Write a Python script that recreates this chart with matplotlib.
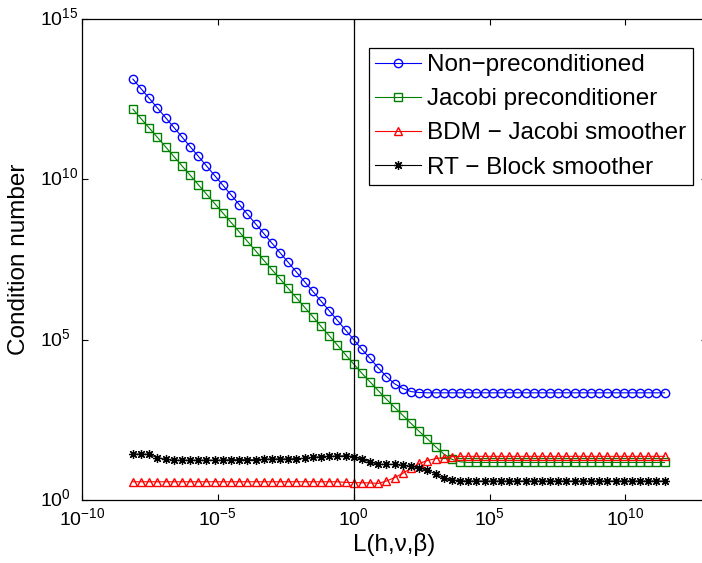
import numpy as np
import matplotlib
matplotlib.use("Agg")
import matplotlib.pyplot as plt
from matplotlib.ticker import NullLocator
from matplotlib.transforms import ScaledTranslation

plt.rcParams['font.family'] = ['Liberation Sans', 'DejaVu Sans']
plt.rcParams['mathtext.fontset'] = 'custom'
plt.rcParams['mathtext.rm'] = 'Liberation Sans'

# x grid: powers of two, 2^-27 ... 2^38
exps = np.arange(-27, 39)
L = 2.0 ** exps

non_prec = np.array([
    1.34e13, 6.71e12, 3.36e12, 1.68e12, 8.39e11, 4.19e11, 2.10e11, 1.05e11,
    5.24e10, 2.62e10, 1.31e10, 6.55e9, 3.28e9, 1.64e9, 8.19e8, 4.10e8,
    2.05e8, 1.02e8, 5.12e7, 2.56e7, 1.28e7, 6.40e6, 3.20e6, 1.60e6,
    8.00e5, 4.00e5, 2.00e5, 1.00e5,
    5.0e4, 2.6e4, 1.32e4, 7.1e3, 4.2e3, 3.0e3, 2.4e3, 2.25e3,
    2200, 2200, 2200, 2200, 2200, 2200, 2200, 2200, 2200, 2200,
    2200, 2200, 2200, 2200, 2200, 2200, 2200, 2200, 2200, 2200,
    2200, 2200, 2200, 2200, 2200, 2200, 2200, 2200, 2200, 2200,
])

jacobi = np.array([
    1.55e12, 7.8e11, 3.98e11, 2.03e11, 1.03e11, 5.2e10, 2.65e10, 1.35e10,
    6.8e9, 3.46e9, 1.76e9, 8.9e8, 4.55e8, 2.3e8, 1.17e8, 5.9e7,
    3.0e7, 1.52e7, 7.8e6, 3.95e6, 2.0e6, 1.02e6, 5.2e5, 2.6e5,
    1.33e5, 6.8e4, 3.4e4, 1.74e4,
    8.9e3, 4.8e3, 2.57e3, 1.38e3, 776, 437, 245, 138, 81, 46, 27.5, 18.6, 15.5,
    14.8, 14.8, 14.8, 14.8, 14.8, 14.8, 14.8, 14.8, 14.8, 14.8,
    14.8, 14.8, 14.8, 14.8, 14.8, 14.8, 14.8, 14.8, 14.8, 14.8,
    14.8, 14.8, 14.8, 14.8, 14.8,
])

bdm = np.array([
    3.7, 3.7, 3.7, 3.7, 3.7, 3.7, 3.7, 3.7, 3.7, 3.7,
    3.7, 3.7, 3.7, 3.7, 3.7, 3.7, 3.7, 3.7, 3.7, 3.7,
    3.7, 3.7, 3.7, 3.7, 3.7, 3.7,
    3.55, 3.5,
    3.45, 3.4, 3.3, 3.9, 5.0, 6.8, 9.8, 13.8, 17, 19.5, 21, 22.4,
    23, 23, 23, 23, 23, 23, 23, 23, 23, 23,
    23, 23, 23, 23, 23, 23, 23, 23, 23, 23,
    23, 23, 23, 23, 23, 23,
])

rt = np.array([
    27, 27, 26.5, 21, 18.6,
    17.4, 17.4, 17.4, 17.4, 17.4, 17.4, 17.4,
    18, 18, 18, 18,
    18.6, 19, 19,
    19, 19.5, 20, 21.4, 22.4, 23, 23.4, 24, 22.4,
    18.6, 15.5, 12.9, 12.9, 12.9, 12, 11.2, 10, 8.5, 6.5, 4.7, 4.2, 4.0,
    3.9, 3.9, 3.9, 3.9, 3.9, 3.9, 3.9, 3.9, 3.9, 3.9,
    3.9, 3.9, 3.9, 3.9, 3.9, 3.9, 3.9, 3.9, 3.9, 3.9,
    3.9, 3.9, 3.9, 3.9, 3.9,
])

labels = ['Non\u2212preconditioned', 'Jacobi preconditioner',
          'BDM \u2212 Jacobi smoother', 'RT \u2212 Block smoother']

fig = plt.figure(figsize=(7.02, 5.63), dpi=100)
W, H = 702.0, 563.0
ax = fig.add_axes([82 / W, 63 / H, 625 / W, 481 / H])

lw = 0.8
ax.loglog(L, non_prec, color='b', marker='o', ms=6, mfc='none', lw=lw, label=labels[0])
ax.loglog(L, jacobi, color=(0, 0.5, 0), marker='s', ms=5.5, mfc='none', lw=lw, label=labels[1])
ax.loglog(L, bdm, color='r', marker='^', ms=6, mfc='none', lw=lw, label=labels[2])
# MATLAB-style asterisk: eight thin arms
ax.loglog(L, rt, color='k', marker=(8, 2, 0), ms=6.5, mew=0.9, lw=lw, label=labels[3])
ax.axvline(1, color='k', lw=0.9)

ax.set_xlim(1e-10, 1e13)
ax.set_ylim(1, 1e15)
ax.set_xticks([1e-10, 1e-5, 1, 1e5, 1e10])
ax.set_yticks([1, 1e5, 1e10, 1e15])
ax.xaxis.set_minor_locator(NullLocator())
ax.yaxis.set_minor_locator(NullLocator())
ax.tick_params(direction='in', top=True, right=True, length=4, width=0.8,
               labelsize=14)
ax.tick_params(axis='x', pad=5)
# y labels: left-aligned at x=40px, base "10" centred on the tick like MATLAB
ax.tick_params(axis='y', pad=42 * 72 / 100)
fig.canvas.draw()
for t in ax.get_yticklabels():
    t.set_horizontalalignment('left')
    t.set_transform(t.get_transform() + ScaledTranslation(0, 3 / 100, fig.dpi_scale_trans))
for s in ax.spines.values():
    s.set_linewidth(0.9)

fig.text(394 / W, 1 - 544 / H, 'L(h,\u03bd,\u03b2)', fontsize=17.5,
         ha='center', va='center')
fig.text(19 / W, 1 - 259 / H, 'Condition number', fontsize=17.5,
         rotation=90, ha='center', va='center')

leg = ax.legend(loc='upper left', bbox_to_anchor=(369 / W, 1 - 48 / H),
                bbox_transform=fig.transFigure, fontsize=17.5, fancybox=False,
                framealpha=1, edgecolor='k', handlelength=1.9, handletextpad=0.25,
                labelspacing=0.5, borderpad=0.25, borderaxespad=0)
leg.get_frame().set_linewidth(0.9)

fig.savefig('out.png', dpi=100)
